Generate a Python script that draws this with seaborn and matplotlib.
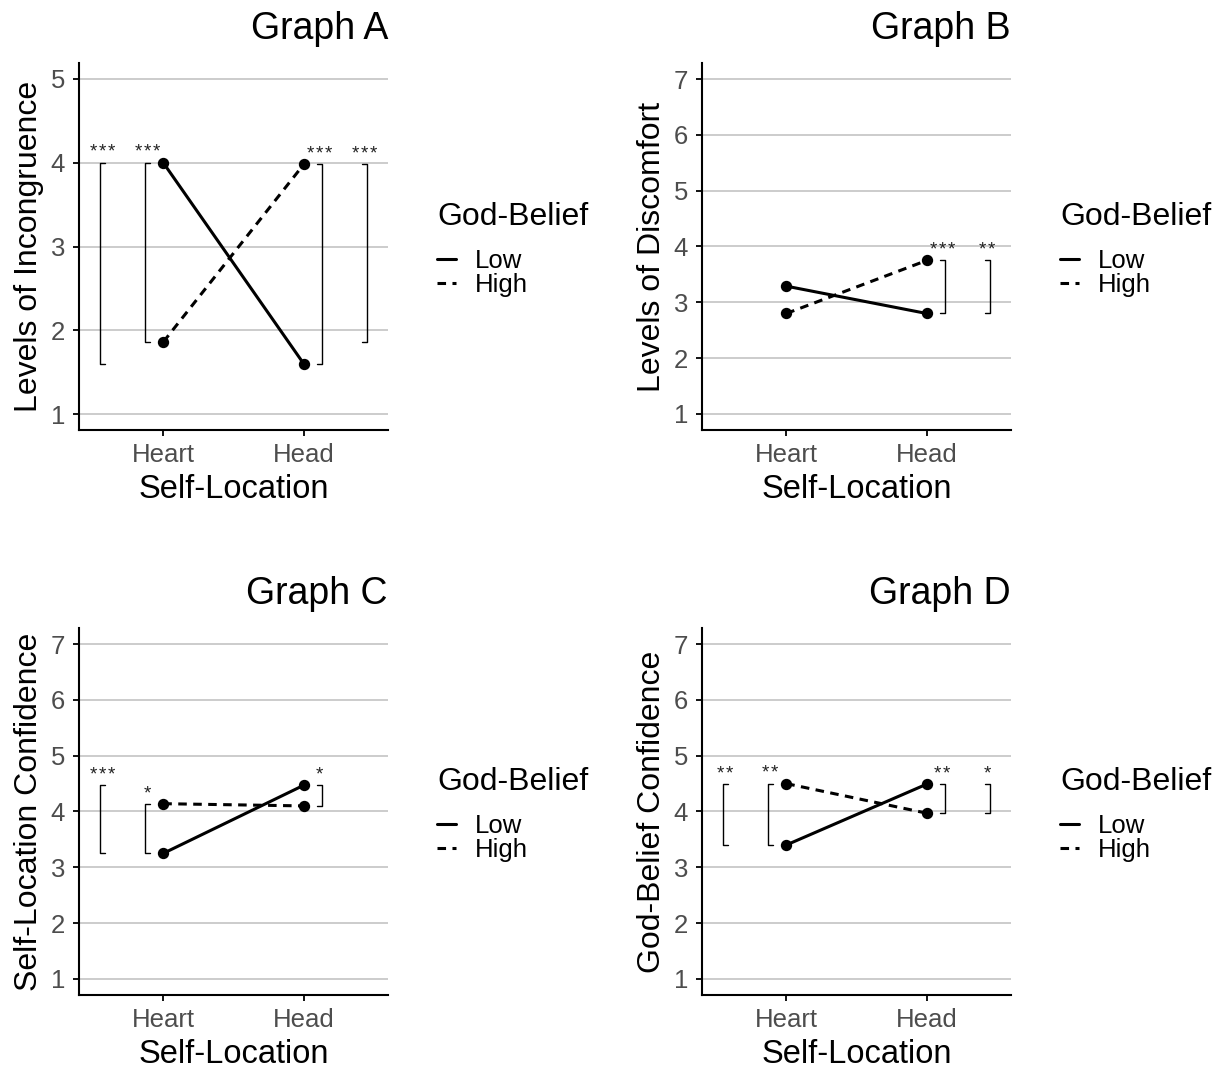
import pandas as pd
import matplotlib
matplotlib.use('Agg')
import matplotlib.pyplot as plt
import seaborn as sns
from matplotlib.lines import Line2D

sns.set_style('ticks')
plt.rcParams['font.family'] = ['Liberation Sans', 'DejaVu Sans']
plt.rcParams['text.color'] = 'black'
plt.rcParams['axes.labelcolor'] = 'black'

# data
locations = ['Heart', 'Head']
beliefs = ['Low', 'High']

a_low = [4.00, 1.60]
a_high = [1.86, 3.98]
b_low = [3.29, 2.80]
b_high = [2.80, 3.75]
c_low = [3.25, 4.47]
c_high = [4.14, 4.10]
d_low = [3.40, 4.49]
d_high = [4.50, 3.97]

titles = ['Graph A', 'Graph B', 'Graph C', 'Graph D']
ylabels = ['Levels of Incongruence', 'Levels of Discomfort',
           'Self-Location Confidence', 'God-Belief Confidence']
ymax = [5, 7, 7, 7]

# significance stars: low = Low heart vs head, heart = heart Low vs High,
# head = head Low vs High, high = High heart vs head
a_sig = {'low': '***', 'heart': '***', 'head': '***', 'high': '***'}
b_sig = {'head': '***', 'high': '**'}
c_sig = {'low': '***', 'heart': '*', 'head': '*'}
d_sig = {'low': '**', 'heart': '**', 'head': '**', 'high': '*'}

panels = [(a_low, a_high, a_sig), (b_low, b_high, b_sig),
          (c_low, c_high, c_sig), (d_low, d_high, d_sig)]

fig = plt.figure(figsize=(12.23, 10.72), dpi=100)
W, H = 1223, 1072
boxes = [(79, 63), (702, 63), (79, 628), (702, 628)]
aw, ah = 309, 367

bracket_x = {'low': -0.45, 'heart': -0.13, 'head': 1.13, 'high': 1.45}
arm = 0.036
dash = (2.8, 2.1)

for i, (low, high, sig) in enumerate(panels):
    lx, ty = boxes[i]
    ax = fig.add_axes([lx / W, 1 - (ty + ah) / H, aw / W, ah / H])
    df = pd.DataFrame({
        'Self-Location': locations * 2,
        'value': low + high,
        'God-Belief': [beliefs[0]] * 2 + [beliefs[1]] * 2,
    })
    sns.pointplot(data=df, x='Self-Location', y='value', hue='God-Belief',
                  order=locations, hue_order=beliefs,
                  palette=['black', 'black'], linestyles=['-', '--'],
                  markers=['o', 'o'], errorbar=None, ax=ax,
                  markersize=6.5, linewidth=2.2, legend=False)
    for ln in ax.lines:
        if ln.get_linestyle() == '--':
            ln.set_dashes(dash)

    # brackets
    vals = {'low': (low[0], low[1]), 'heart': (low[0], high[0]),
            'head': (low[1], high[1]), 'high': (high[0], high[1])}
    for key, lab in sig.items():
        x = bracket_x[key]
        y1, y2 = sorted(vals[key])
        d = arm if x < 0.5 else -arm
        ax.plot([x + d, x, x, x + d], [y1, y1, y2, y2], color='black', lw=1.0)
        ax.annotate('\u200a'.join(lab), (x + d / 2, y2), xytext=(0, 1),
                    textcoords='offset points', ha='center', va='bottom',
                    fontsize=13.5, color='#222222')

    ax.set_xlim(-0.6, 1.6)
    pad = 16 / 84 if ymax[i] == 5 else 16 / 55.8
    ax.set_ylim(1 - pad, ymax[i] + pad)
    ax.set_yticks(range(1, ymax[i] + 1))
    ax.yaxis.grid(True, color='#c4c4c4', lw=1.2)
    ax.xaxis.grid(False)
    ax.set_axisbelow(True)
    sns.despine(ax=ax)
    for s in ['left', 'bottom']:
        ax.spines[s].set_linewidth(1.5)
        ax.spines[s].set_color('black')
    ax.tick_params(axis='both', length=4, width=1.3, color='black',
                   labelsize=18.5, labelcolor='#4d4d4d')
    ax.tick_params(axis='x', pad=5.5)
    ax.tick_params(axis='y', pad=6)
    ax.set_xlabel('Self-Location', fontsize=23.5, labelpad=5)
    ax.set_ylabel(ylabels[i], fontsize=23, labelpad=5)
    ax.set_title(titles[i], loc='right', fontsize=27, pad=17)

    handles = [Line2D([], [], color='black', lw=2.2, ls='-'),
               Line2D([], [], color='black', lw=2.2, dashes=dash)]
    leg = ax.legend(handles, beliefs, title='God-Belief', loc='upper left',
                    bbox_to_anchor=((lx + 358) / W, 1 - (ty + 139) / H),
                    bbox_transform=fig.transFigure, frameon=False,
                    alignment='left', borderpad=0, borderaxespad=0,
                    fontsize=18.5, title_fontsize=23, handlelength=0.72,
                    handletextpad=0.75, labelspacing=0.0)
    leg._legend_box.sep = 12

fig.savefig('out.png', dpi=100)
